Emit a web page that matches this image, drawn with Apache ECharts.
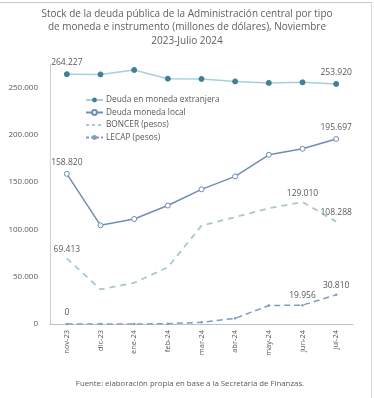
<!DOCTYPE html>
<html><head><meta charset="utf-8">
<script src="https://cdn.jsdelivr.net/npm/echarts@6/dist/echarts.min.js"></script>
<style>html,body{margin:0;padding:0;background:#fff}#c{width:374px;height:398px}</style>
</head><body><div id="c"></div>
<script>
const categories = ['nov-23','dic-23','ene-24','feb-24','mar-24','abr-24','may-24','jun-24','jul-24'];
const extranjera = [264227, 264000, 268700, 259500, 259200, 256600, 255000, 255600, 253920];
const local = [158820, 104400, 111100, 125300, 142400, 156100, 179000, 185300, 195697];
const boncer = [69413, 36600, 43600, 60000, 104000, 113000, 122500, 129010, 108288];
const lecap = [0, 0, 0, 300, 1800, 6000, 19500, 19956, 30810];
const yTicks = [0, 50000, 100000, 150000, 200000, 250000];
const seriesNames = ['Deuda en moneda extranjera','Deuda moneda local','BONCER (pesos)','LECAP (pesos)'];
const labelIdx = [[0, 8], [0, 8], [0, 7, 8], [0, 7, 8]];

const fmt = v => String(Math.round(v)).replace(/\B(?=(\d{3})+(?!\d))/g, '.');
const font = "'Open Sans', sans-serif";
function withLabels(arr, idx, extra) {
  return arr.map((v, i) => idx.includes(i)
    ? {value: v, label: Object.assign({show: true, position: 'top', distance: 4, formatter: p => fmt(p.value), color: '#595959', fontSize: 8.5, fontFamily: font}, extra && extra[i] || {})}
    : v);
}
const chart = echarts.init(document.getElementById('c'), null, {renderer: 'canvas'});
chart.setOption({
  animation: false,
  backgroundColor: '#fff',
  graphic: [
    {type: 'line', shape: {x1: 0, y1: 2.5, x2: 372, y2: 2.5}, style: {stroke: '#c8c8c8', lineWidth: 1}},
    {type: 'line', shape: {x1: 371.5, y1: 2, x2: 371.5, y2: 398}, style: {stroke: '#d8d8d8', lineWidth: 1}},
    {type: 'text', x: 187, y: 7, style: {text: 'Stock de la deuda pública de la Administración central por tipo\nde moneda e instrumento (millones de dólares), Noviembre\n2023-Julio 2024',
      fill: '#606060', font: "10px 'Open Sans', sans-serif", align: 'center', lineHeight: 13.5}},
    {type: 'text', x: 190, y: 380, style: {text: 'Fuente: elaboración propia en base a la Secretaría de Finanzas.', fill: '#595959', font: "7.8px 'Open Sans', sans-serif", align: 'center'}}
  ],
  legend: {
    orient: 'vertical', left: 80, top: 91, itemGap: 4.5, itemWidth: 17, itemHeight: 6,
    textStyle: {fontFamily: font, fontSize: 8.3, color: '#595959', padding: [0,0,0,-2]},
    data: [
      {name: seriesNames[0]},
      {name: seriesNames[1]},
      {name: seriesNames[2], itemStyle: {opacity: 0}, lineStyle: {type: [3, 3]}},
      {name: seriesNames[3], lineStyle: {type: [3, 2]}}
    ]
  },
  grid: {left: 50, right: 21, top: 64, bottom: 74},
  xAxis: {
    type: 'category', data: categories, boundaryGap: true,
    axisLine: {lineStyle: {color: '#bfbfbf'}}, axisTick: {show: false},
    axisLabel: {rotate: 90, color: '#595959', fontSize: 7.5, fontFamily: font, margin: 6}
  },
  yAxis: {
    type: 'value', min: 0, max: 275000, interval: 50000,
    axisLine: {show: true, lineStyle: {color: '#d0d0d0'}}, axisTick: {show: false},
    splitLine: {show: false},
    axisLabel: {color: '#595959', fontSize: 8, fontFamily: font, margin: 12,
      formatter: v => yTicks.includes(v) ? fmt(v) : ''}
  },
  series: [
    {name: seriesNames[0], type: 'line', data: withLabels(extranjera, labelIdx[0]), symbol: 'circle', symbolSize: 5,
      lineStyle: {color: '#a8cfdc', width: 1.5}, itemStyle: {color: '#3f7f97', borderColor: '#3f7f97'}, z: 4},
    {name: seriesNames[1], type: 'line', data: withLabels(local, labelIdx[1]), symbol: 'circle', symbolSize: 5,
      lineStyle: {color: '#6f8db5', width: 1.5}, itemStyle: {color: '#ffffff', borderColor: '#6f8db5', borderWidth: 1}, z: 3},
    {name: seriesNames[2], type: 'line', data: withLabels(boncer, labelIdx[2]), symbol: 'circle', symbolSize: 0.1, showSymbol: true,
      lineStyle: {color: '#a9c7cf', width: 1.8, type: [6, 5]}, itemStyle: {color: '#a9c7cf', opacity: 1}, z: 2},
    {name: seriesNames[3], type: 'line', data: withLabels(lecap, labelIdx[3], {0: {distance: 6}}), symbol: 'circle', symbolSize: 2.5,
      lineStyle: {color: '#7f9ac4', width: 1.5, type: [6, 4]}, itemStyle: {color: '#7f9ac4'}, z: 2}
  ]
});
</script></body></html>
